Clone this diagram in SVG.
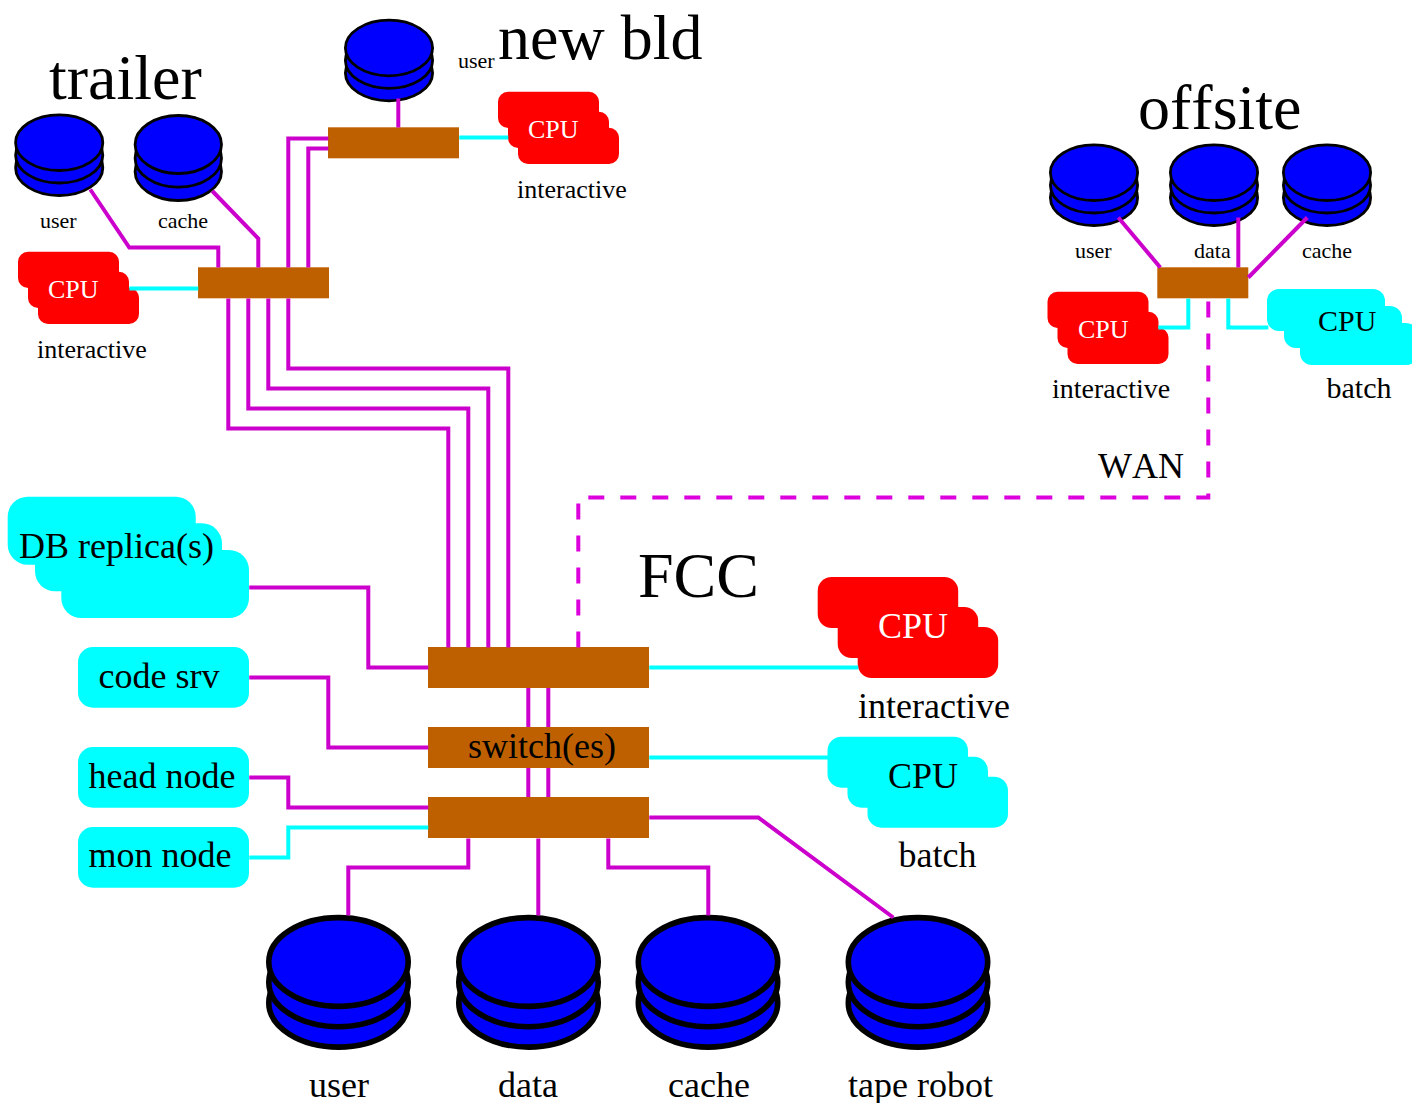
<svg xmlns="http://www.w3.org/2000/svg" width="1412" height="1103" viewBox="0 0 1412 1103">
<style>
text{font-family:"Liberation Serif","Times New Roman",serif;fill:#000;font-kerning:none}
text.w{fill:#fff}
.l{fill:none;stroke:#cc00cc;stroke-width:4}
.c{fill:none;stroke:#00ffff;stroke-width:4}
.d{stroke:#dc00dc;stroke-dasharray:16 16}
.sw{fill:#bf6000}
.red{fill:#ff0000}
.cy{fill:#00ffff}
.ds ellipse{fill:#0000ff;stroke:#000;stroke-width:2.8}
.dl ellipse{fill:#0000ff;stroke:#000;stroke-width:5.6}
.t64{font-size:64px}.t36{font-size:36px}.t30{font-size:30px}.t28{font-size:28px}.t26{font-size:26px}.t22{font-size:22px}
</style>
<defs>
<g id="disk" class="ds"><ellipse cx="0" cy="25" rx="43.6" ry="27.8"/><ellipse cx="0" cy="12.5" rx="43.6" ry="27.8"/><ellipse cx="0" cy="0" rx="43.6" ry="27.8"/></g>
<g id="disk2" class="ds"><ellipse cx="0" cy="27" rx="43.2" ry="29"/><ellipse cx="0" cy="13.7" rx="43.2" ry="29"/><ellipse cx="0" cy="0" rx="43.2" ry="29"/></g>
<g id="bigdisk" class="dl"><ellipse cx="0" cy="40.7" rx="69.7" ry="44.4"/><ellipse cx="0" cy="20.3" rx="69.7" ry="44.4"/><ellipse cx="0" cy="0" rx="69.7" ry="44.4"/></g>
<g id="cpuS"><rect x="0" y="0" width="101" height="36.3" rx="10"/><rect x="10" y="20" width="101" height="36.3" rx="10"/><rect x="20" y="36" width="101" height="36.3" rx="10"/></g>
<g id="cpuR"><rect x="0" y="0" width="140.5" height="51" rx="14"/><rect x="20" y="30" width="140.5" height="51" rx="14"/><rect x="40" y="50" width="140.5" height="51" rx="14"/></g>
<g id="cpuC"><rect x="0" y="0" width="140.5" height="51" rx="14"/><rect x="20" y="20" width="140.5" height="51" rx="14"/><rect x="40" y="40" width="140.5" height="51" rx="14"/></g>
</defs>
<g id="label-trailer"><text class="t64" x="49" y="98.5">trailer</text></g>
<g id="label-newbld"><text class="t64" x="498" y="58.5">new bld</text></g>
<g id="label-offsite"><text class="t64" x="1138" y="128.5">offsite</text></g>
<g id="label-fcc"><text class="t64" x="638" y="597">FCC</text></g>
<g id="label-wan"><text class="t36" x="1098" y="478">WAN</text></g>
<g id="trailer-user"><use href="#disk" x="59.2" y="142.7"/><text class="t22" x="40" y="228">user</text></g>
<g id="trailer-cache"><use href="#disk2" x="178.3" y="144.5"/><text class="t22" x="158" y="228">cache</text></g>
<g id="trailer-cpu"><use href="#cpuS" x="18" y="251.7" class="red"/><text class="t26 w" x="48" y="298">CPU</text><text class="t26" x="37" y="358">interactive</text></g>
<g id="trailer-switch"><rect class="sw" x="198" y="267.3" width="131" height="31"/></g>
<g id="newbld-user"><use href="#disk" x="389" y="48"/><text class="t22" x="458" y="68">user</text></g>
<g id="newbld-cpu"><use href="#cpuS" x="498" y="91.7" class="red"/><text class="t26 w" x="528" y="138">CPU</text><text class="t26" x="517" y="198">interactive</text></g>
<g id="newbld-switch"><rect class="sw" x="328" y="127.3" width="131" height="31"/></g>
<g id="offsite-user"><use href="#disk" x="1094" y="172.7"/><text class="t22" x="1075" y="258">user</text></g>
<g id="offsite-data"><use href="#disk" x="1214" y="172.7"/><text class="t22" x="1194" y="258">data</text></g>
<g id="offsite-cache"><use href="#disk" x="1327" y="172.7"/><text class="t22" x="1302" y="258">cache</text></g>
<g id="offsite-switch"><rect class="sw" x="1157.3" y="267.3" width="91" height="31"/></g>
<g id="offsite-cpu"><use href="#cpuS" x="1047.5" y="291.7" class="red"/><text class="t26 w" x="1078" y="338">CPU</text><text class="t28" x="1052" y="398">interactive</text></g>
<g id="offsite-batch"><g class="cy"><rect x="1267" y="289" width="118" height="42" rx="12"/><rect x="1284" y="306" width="118" height="42" rx="12"/><rect x="1300" y="323" width="118" height="42" rx="12"/></g><text class="t30" x="1318" y="331">CPU</text><text class="t30" x="1326.5" y="398">batch</text></g>
<g id="db-replica"><g class="cy"><rect x="7.7" y="496.7" width="188" height="68" rx="20"/><rect x="35" y="523.3" width="187" height="68" rx="20"/><rect x="61.3" y="550" width="187.7" height="68" rx="20"/></g><text class="t36" x="19" y="558">DB replica(s)</text></g>
<g id="code-srv"><rect class="cy" x="78" y="647" width="171" height="60.7" rx="15"/><text class="t36" x="98.5" y="688">code srv</text></g>
<g id="head-node"><rect class="cy" x="78" y="747" width="171" height="60.7" rx="15"/><text class="t36" x="88.5" y="788">head node</text></g>
<g id="mon-node"><rect class="cy" x="78" y="827" width="171" height="60.7" rx="15"/><text class="t36" x="88.5" y="867">mon node</text></g>
<g id="switch-1"><rect class="sw" x="428" y="647" width="221" height="41"/></g>
<g id="switch-2"><rect class="sw" x="428" y="727" width="221" height="41"/><text class="t36" x="468" y="758">switch(es)</text></g>
<g id="switch-3"><rect class="sw" x="428" y="797" width="221" height="41"/></g>
<g id="fcc-cpu"><use href="#cpuR" x="817.7" y="577" class="red"/><text class="t36 w" x="878" y="638">CPU</text><text class="t36" x="858" y="717.5">interactive</text></g>
<g id="fcc-batch"><use href="#cpuC" x="827.5" y="736.7" class="cy"/><text class="t36" x="888" y="787.5">CPU</text><text class="t36" x="898.5" y="867">batch</text></g>
<g id="fcc-user"><use href="#bigdisk" x="338.5" y="962"/><text class="t36" x="309" y="1097">user</text></g>
<g id="fcc-data"><use href="#bigdisk" x="528.5" y="962"/><text class="t36" x="498" y="1097">data</text></g>
<g id="fcc-cache"><use href="#bigdisk" x="708" y="962"/><text class="t36" x="668" y="1097">cache</text></g>
<g id="fcc-tape"><use href="#bigdisk" x="918" y="962"/><text class="t36" x="848" y="1097">tape robot</text></g>
<g id="connectors" transform="translate(0.3 0.5)">
<path class="l" d="M90 189L129 247H218V267"/>
<path class="l" d="M212 190.5L258 238V267"/>
<path class="l" d="M288 267V138H328"/>
<path class="l" d="M308 267V148H328"/>
<path class="l" d="M398 98V127"/>
<path class="c" d="M129 288H198"/>
<path class="c" d="M459 137H508"/>
<path class="l" d="M228 298V428H448V647"/>
<path class="l" d="M248 298V408H468V647"/>
<path class="l" d="M268 298V388H488V647"/>
<path class="l" d="M288 298V368H508V647"/>
<path class="l d" d="M1208 301V497H578V647"/>
<path class="l" d="M249 587H368V667H428"/>
<path class="l" d="M249 677H328V747H428"/>
<path class="l" d="M249 777H288V807H428"/>
<path class="c" d="M249 857H288V827H428"/>
<path class="l" d="M528 687.5V726.5M528 767.5V796.5"/>
<path class="l" d="M548 687.5V726.5M548 767.5V796.5"/>
<path class="l" d="M468 838V867H348V915"/>
<path class="l" d="M538 838V915"/>
<path class="l" d="M608 838V867H708V915"/>
<path class="l" d="M649 817H758L893 917"/>
<path class="c" d="M649 667H858"/>
<path class="c" d="M649 757H828"/>
<path class="l" d="M1118 217L1160 267"/>
<path class="l" d="M1238 217V267"/>
<path class="l" d="M1307 217L1248 277"/>
<path class="c" d="M1188 298V327H1158"/>
<path class="c" d="M1228 298V327H1268"/>
</g>
</svg>
